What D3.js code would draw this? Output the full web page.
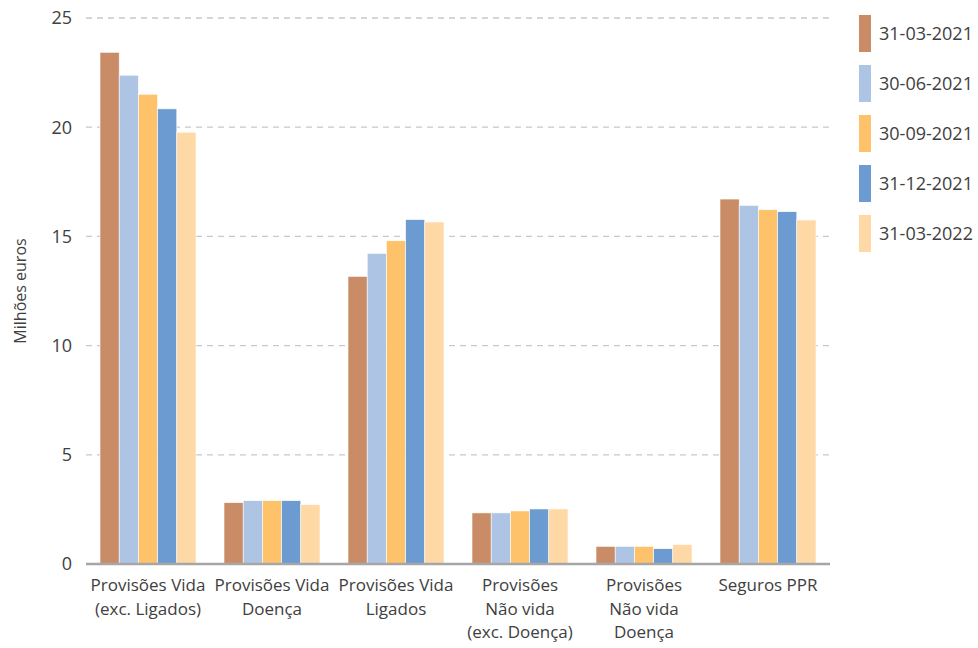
<!DOCTYPE html>
<html>
<head>
<meta charset="utf-8">
<script src="https://cdn.jsdelivr.net/npm/d3@7"></script>
<style>
  body { margin: 0; background: #fff; }
  text { font-family: "Open Sans", "Noto Sans", sans-serif; fill: #404040; }
</style>
</head>
<body>
<svg width="978" height="648"></svg>
<script>
// categories (multi-line labels)
const categories = [
    ["Provisões Vida", "(exc. Ligados)"],
    ["Provisões Vida", "Doença"],
    ["Provisões Vida", "Ligados"],
    ["Provisões", "Não vida", "(exc. Doença)"],
    ["Provisões", "Não vida", "Doença"],
    ["Seguros PPR"]
];
const seriesNames = ["31-03-2021", "30-06-2021", "30-09-2021", "31-12-2021", "31-03-2022"];
const colors = ["#c98c66", "#aec4e4", "#fdc26a", "#6b9bd0", "#fed8a5"];

// values per series, one per category (milhões euros)
const s2021q1 = [23.43, 2.81, 13.17, 2.34, 0.81, 16.71];
const s2021q2 = [22.38, 2.90, 14.22, 2.34, 0.81, 16.42];
const s2021q3 = [21.51, 2.90, 14.80, 2.43, 0.81, 16.22];
const s2021q4 = [20.84, 2.90, 15.77, 2.52, 0.70, 16.13];
const s2022q1 = [19.77, 2.72, 15.66, 2.52, 0.89, 15.75];
const series = [s2021q1, s2021q2, s2021q3, s2021q4, s2022q1];

const yTicks = [0, 5, 10, 15, 20, 25];

const svg = d3.select("svg");
const margin = {left: 86, right: 148, top: 18, bottom: 84};
const width = 978, height = 648;
const plotRight = width - margin.right;
const plotBottom = height - margin.bottom;

const y = d3.scaleLinear().domain([0, 25]).range([plotBottom, margin.top]);
const x0 = d3.scaleBand().domain(d3.range(categories.length)).range([margin.left, plotRight]);
const x1 = d3.scaleBand().domain(d3.range(seriesNames.length))
    .range([14, x0.bandwidth() - 14]);

// dashed grid lines
svg.append("g")
    .selectAll("line")
    .data(yTicks.filter(d => d > 0))
    .join("line")
    .attr("x1", margin.left).attr("x2", plotRight)
    .attr("y1", d => y(d)).attr("y2", d => y(d))
    .style("stroke", "#c8c8c8")
    .style("stroke-width", 1.3)
    .style("stroke-dasharray", "6,5");

// y tick labels
svg.append("g")
    .selectAll("text")
    .data(yTicks)
    .join("text")
    .attr("x", 72)
    .attr("y", d => y(d))
    .attr("dy", "0.36em")
    .attr("text-anchor", "end")
    .style("font-size", "18px")
    .text(d => d);

// y-axis title
svg.append("text")
    .attr("transform", `translate(26,${(margin.top + plotBottom) / 2}) rotate(-90)`)
    .attr("text-anchor", "middle")
    .style("font-size", "16px")
    .text("Milhões euros");

// bars
const groups = svg.append("g")
    .selectAll("g")
    .data(categories.map((c, i) => i))
    .join("g")
    .attr("transform", i => `translate(${x0(i)},0)`);

groups.selectAll("rect")
    .data(i => series.map((s, k) => ({k: k, v: s[i]})))
    .join("rect")
    .attr("x", d => x1(d.k))
    .attr("width", x1.bandwidth())
    .attr("y", d => y(d.v))
    .attr("height", d => y(0) - y(d.v))
    .attr("fill", d => colors[d.k])
    .style("stroke", "#fff")
    .style("stroke-width", 0.6);

// baseline
svg.append("line")
    .attr("x1", margin.left).attr("x2", plotRight)
    .attr("y1", y(0)).attr("y2", y(0))
    .style("stroke", "#a6a6a6")
    .style("stroke-width", 2.5);

// category labels
const catLabels = svg.append("g")
    .selectAll("text")
    .data(categories)
    .join("text")
    .attr("x", (d, i) => x0(i) + x0.bandwidth() / 2)
    .attr("y", 591)
    .attr("text-anchor", "middle")
    .style("font-size", "17px");

catLabels.selectAll("tspan")
    .data(d => d)
    .join("tspan")
    .attr("x", function () { return d3.select(this.parentNode).attr("x"); })
    .attr("dy", (d, j) => j === 0 ? 0 : 23.5)
    .text(d => d);

// legend
const legend = svg.append("g")
    .selectAll("g")
    .data(seriesNames)
    .join("g")
    .attr("transform", (d, i) => `translate(859,${15 + i * 50})`);

legend.append("rect")
    .attr("width", 12)
    .attr("height", 37)
    .attr("fill", (d, i) => colors[i]);

legend.append("text")
    .attr("x", 20)
    .attr("y", 18.5)
    .attr("dy", "0.36em")
    .style("font-size", "18px")
    .text(d => d);
</script>
</body>
</html>
